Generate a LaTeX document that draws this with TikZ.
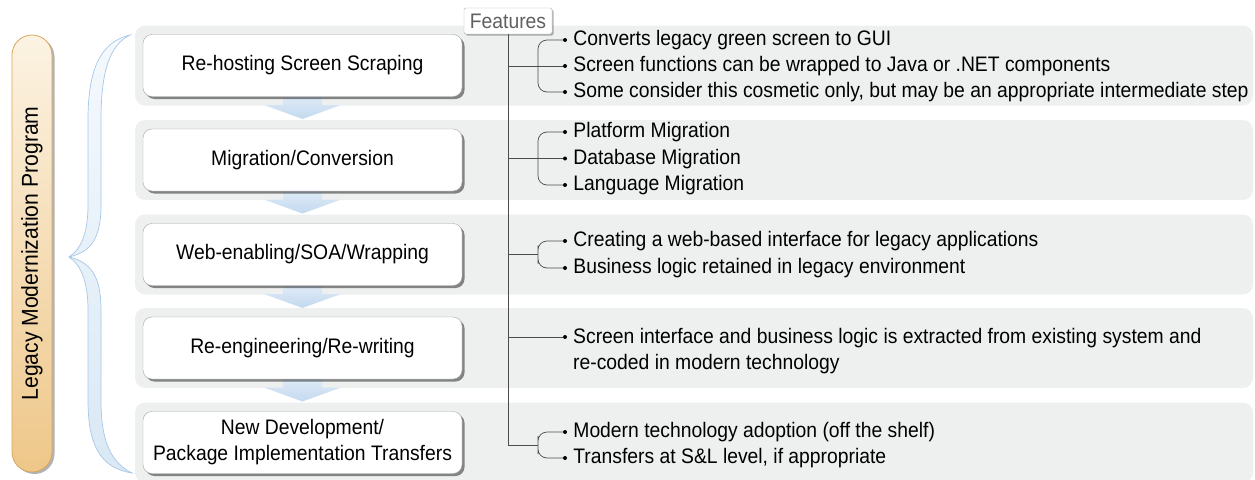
\documentclass[tikz,border=0pt]{standalone}
\usepackage{fontspec}
\setmainfont{Liberation Sans}[FakeStretch=0.92]
\usepackage{tikz}
\usetikzlibrary{positioning,shadows}
\definecolor{bandgray}{HTML}{EEF0F0}
\definecolor{arrowtop}{HTML}{E6EFF9}
\definecolor{arrowbot}{HTML}{C3D9EF}
\definecolor{bracetop}{HTML}{F5F9FD}
\definecolor{bracebot}{HTML}{DAE8F5}
\definecolor{braceline}{HTML}{A6C8E8}
\definecolor{bartop}{HTML}{FCF3E3}
\definecolor{barbot}{HTML}{EEC789}
\definecolor{barline}{HTML}{D9A65A}
\tikzset{
  band/.style={fill=bandgray, rounded corners=10pt},
  flowarrow/.style={top color=arrowtop, bottom color=arrowbot},
  stage/.style={draw=gray!70, fill=white, rounded corners=9pt, minimum width=319pt,
    minimum height=62pt, align=center, font=\fontsize{21}{26}\selectfont,
    drop shadow={shadow xshift=2.5pt, shadow yshift=-2.5pt, opacity=0.45, fill=black}},
  featbox/.style={draw=gray!60, fill=white, rounded corners=2pt, minimum width=88pt,
    minimum height=26pt, inner sep=0pt, text=gray!75!black, font=\fontsize{21}{26}\selectfont,
    drop shadow={shadow xshift=1.5pt, shadow yshift=-1.5pt, opacity=0.3, fill=black}},
  bul/.style={circle, fill=black, inner sep=0pt, minimum size=4pt},
  feat/.style={inner sep=0pt, font=\fontsize{21}{26}\selectfont, text height=15pt, text depth=4pt},
  conn/.style={draw=black!70, line width=0.7pt},
  brk/.style={conn, rounded corners=9pt},
  progbar/.style={top color=bartop, bottom color=barbot, draw=barline, line width=0.8pt,
    rounded corners=20pt, drop shadow={shadow xshift=2.5pt, shadow yshift=-2pt, opacity=0.3, fill=black}},
  brace/.style={top color=bracetop, bottom color=bracebot, draw=braceline, line width=0.7pt}
}

\begin{document}
\begin{tikzpicture}[x=1pt, y=-1pt]
\useasboundingbox (0,0) rectangle (1255,479);

\foreach \c in {65.5,160,254.5,348,442.5}
  \fill[band] (135,\c-40) rectangle (1253,\c+40);
\foreach \c in {65.5,160,254.5,348}
  \shade[flowarrow] (283,\c+25) -- (322,\c+25) -- (322,\c+39.5) -- (341,\c+39.5)
    -- (302.5,\c+53.5) -- (264,\c+39.5) -- (283,\c+39.5) -- cycle;

\shade[progbar] (12,35) rectangle (52,472);
\node[rotate=90, font=\fontsize{23}{28}\selectfont] (prog) at (32,253.5) {Legacy Modernization Program};

\shade[brace] (130,35) .. controls (100,42) and (88,70) .. (88,120) -- (88,205)
  .. controls (88,235) and (80,250) .. (69,257) .. controls (80,264) and (88,280) .. (88,310)
  -- (88,400) .. controls (88,445) and (100,468) .. (132,473)
  .. controls (110,462) and (101,440) .. (101,400) -- (101,310)
  .. controls (101,275) and (90,262) .. (69,257) .. controls (90,252) and (101,240) .. (101,205)
  -- (101,120) .. controls (101,70) and (110,45) .. (130,35) -- cycle;

\node[stage] (s1) at (302.5,65.5) {Re-hosting Screen Scraping};
\node[stage] (s2) at (302.5,160) {Migration/Conversion};
\node[stage] (s3) at (302.5,254.5) {Web-enabling/SOA/Wrapping};
\node[stage] (s4) at (302.5,348) {Re-engineering/Re-writing};
\node[stage] (s5) at (302.5,442.5) {New Development/\\Package Implementation Transfers};

\node[featbox] (ft) at (508,21) {Features};

\node[bul] (b11) at (565,40) {};
\node[bul] (b12) at (565,66) {};
\node[bul] (b13) at (565,92) {};
\node[bul] (b21) at (565,132) {};
\node[bul] (b22) at (565,158.5) {};
\node[bul] (b23) at (565,185) {};
\node[bul] (b31) at (565,241) {};
\node[bul] (b32) at (565,268) {};
\node[bul] (b41) at (565,337) {};
\node[bul] (b51) at (565,432) {};
\node[bul] (b52) at (565,458) {};

\node[feat, right=6pt of b11] (f11) {Converts legacy green screen to GUI};
\node[feat, right=6pt of b12] (f12) {Screen functions can be wrapped to Java or .NET components};
\node[feat, right=6pt of b13] (f13) {Some consider this cosmetic only, but may be an appropriate intermediate step};
\node[feat, right=6pt of b21] (f21) {Platform Migration};
\node[feat, right=6pt of b22] (f22) {Database Migration};
\node[feat, right=6pt of b23] (f23) {Language Migration};
\node[feat, right=6pt of b31] (f31) {Creating a web-based interface for legacy applications};
\node[feat, right=6pt of b32] (f32) {Business logic retained in legacy environment};
\node[inner sep=0pt, anchor=west, align=left, font=\fontsize{21}{26}\selectfont] (f41) at (573,351)
  {Screen interface and business logic is extracted from existing system and\\re-coded in modern technology};
\node[feat, right=6pt of b51] (f51) {Modern technology adoption (off the shelf)};
\node[feat, right=6pt of b52] (f52) {Transfers at S\&L level, if appropriate};

\coordinate (t1) at (508,66);
\coordinate (t2) at (508,158.5);
\coordinate (t3) at (508,254.5);
\coordinate (br3) at (538,254.5);
\coordinate (t4) at (508,337);
\coordinate (br5) at (538,445);

\draw[conn] (ft.south) |- (br5);
\draw[conn] (t1) -- (b12);
\draw[brk] (b11) -| (538,66) |- (b13);
\draw[conn] (t2) -- (b22);
\draw[brk] (b21) -| (538,158.5) |- (b23);
\draw[conn] (t3) -- (br3);
\draw[brk] (b31) -| (br3) |- (b32);
\draw[conn] (t4) -- (b41);
\draw[brk] (b51) -| (br5) |- (b52);
\end{tikzpicture}
\end{document}
